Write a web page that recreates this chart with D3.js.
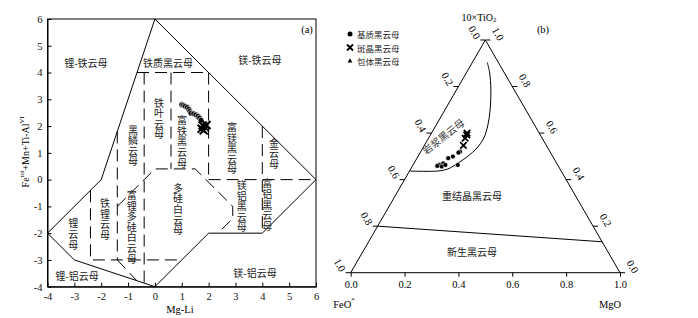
<!DOCTYPE html>
<html><head><meta charset="utf-8">
<script src="https://cdn.jsdelivr.net/npm/d3@7"></script>
<style>body{margin:0;background:#fff}svg{display:block}</style>
</head><body>
<svg id="c" width="698" height="318"></svg>
<script>
// ---------- Panel (a) data : Mg-Li vs Fe(tot)+Mn+Ti-AlVI ----------
const aTicks = [-4,-3,-2,-1,0,1,2,3,4,5,6];
const aMatrix = [[1.00,2.80],[1.06,2.78],[1.12,2.74],[1.20,2.70],[1.26,2.63],[1.30,2.55],[1.34,2.48],[1.44,2.46],[1.52,2.42],[1.60,2.37],[1.66,2.30],[1.72,2.22]];
const aPheno = [[1.78,2.02],[1.86,1.96],[1.74,1.90],[1.92,2.04],[1.82,1.84]];
const aFieldSolid = [[0,6],[-2,0],[-4,-2],[-3,-3],[0,-4],[2,-2],[4,-2],[6,0],[0,6]];
const aFieldDashed = [
  [[-0.667,4],[2,4]],
  [[-0.4,4],[-0.4,-3.867]],
  [[0.6,4],[0.6,0.4]],
  [[2,4],[2,0]],
  [[4,2],[4,-2]],
  [[2,0],[6,0]],
  [[-1.4,1.8],[-1.4,-3]],
  [[-2.4,-0.4],[-2.4,-3],[1,-3]],
  [[-1.4,-1],[0,0.4],[1.5,0.4],[2.9,-1],[2.9,-1.45],[2.35,-2]],
  [[-1.4,-3],[-0.67,-3.78]]
];
const aNamesH = [
  {t:"锂-铁云母", x:-2.57, y:4.39},
  {t:"铁质黑云母", x:0.49, y:4.39},
  {t:"镁-铁云母", x:3.91, y:4.47},
  {t:"锂-铝云母", x:-2.9, y:-3.58},
  {t:"镁-铝云母", x:3.73, y:-3.46}
];
const aNamesV = [
  {t:"铁叶云母", x:0.15, y:2.87},
  {t:"黑鳞云母", x:-0.82, y:1.86},
  {t:"富铁黑云母", x:1.01, y:2.21},
  {t:"富镁黑云母", x:2.87, y:1.96},
  {t:"金云母", x:4.44, y:1.37},
  {t:"多硅白云母", x:0.86, y:-0.31},
  {t:"镁铝黑云母", x:3.23, y:-0.21},
  {t:"富铝黑云母", x:4.18, y:-0.15},
  {t:"铁锂云母", x:-1.86, y:-0.89},
  {t:"富锂多硅白云母", x:-0.86, y:-0.58},
  {t:"锂云母", x:-3.04, y:-1.64}
];

// ---------- Panel (b) data : ternary 10xTiO2 - FeO* - MgO, as [FeO*, MgO, 10TiO2] ----------
const bTicks = [0,0.2,0.4,0.6,0.8,1.0];
const bMatrix = [[0.334,0.146,0.520],[0.371,0.130,0.499],[0.392,0.116,0.492],[0.422,0.108,0.470],[0.440,0.097,0.463],[0.434,0.110,0.456],[0.417,0.120,0.463],[0.371,0.166,0.463],[0.342,0.142,0.516],[0.449,0.092,0.459]];
const bPheno = [[0.273,0.135,0.592],[0.286,0.136,0.578],[0.308,0.145,0.547],[0.268,0.132,0.600]];
const bMagmaticField = [[0.041,0.055,0.904],[0.053,0.084,0.863],[0.087,0.128,0.785],[0.133,0.168,0.699],[0.173,0.192,0.635],[0.216,0.205,0.579],[0.263,0.201,0.536],[0.314,0.185,0.501],[0.366,0.163,0.471],[0.416,0.138,0.446],[0.457,0.106,0.437],[0.563,0,0.437]];
const bNeoLine = [[0.8,0,0.2],[0,0.867,0.133]];
const legendItems = ["基质黑云母","斑晶黑云母","包体黑云母"];

const CJK = "'Noto Sans CJK SC','Noto Sans',sans-serif";
const SERIF = "'Liberation Serif','DejaVu Serif',serif";
const svg = d3.select("#c");
svg.append("rect").attr("width",698).attr("height",318).attr("fill","#fff");

// =============== Panel (a) ===============
const xA = d3.scaleLinear().domain([-4,6]).range([47.5,316]);
const yA = d3.scaleLinear().domain([-4,6]).range([286.7,19]);
const gA = svg.append("g");
const lineA = d3.line().x(d=>xA(d[0])).y(d=>yA(d[1]));

gA.append("rect").attr("x",xA(-4)).attr("y",yA(6)).attr("width",xA(6)-xA(-4)).attr("height",yA(-4)-yA(6))
  .attr("fill","none").attr("stroke","#000").attr("stroke-width",1);

const axAB = gA.append("g").attr("transform",`translate(0,${yA(-4)})`)
  .call(d3.axisBottom(xA).tickValues(aTicks).tickSizeInner(-4).tickSizeOuter(0).tickPadding(6).tickFormat(d=>String(d)));
const axAL = gA.append("g").attr("transform",`translate(${xA(-4)},0)`)
  .call(d3.axisLeft(yA).tickValues(aTicks).tickSizeInner(-4).tickSizeOuter(0).tickPadding(5).tickFormat(d=>String(d)));
[axAB,axAL].forEach(g=>{g.attr("font-family",SERIF).attr("font-size",10.5);g.selectAll("text").attr("fill","#111");});

gA.append("path").datum(aFieldSolid).attr("d",lineA).attr("fill","none").attr("stroke","#000").attr("stroke-width",1);
gA.selectAll(".dash").data(aFieldDashed).join("path").attr("d",lineA).attr("fill","none")
  .attr("stroke","#000").attr("stroke-width",1).attr("stroke-dasharray","12,6");

gA.selectAll(".nh").data(aNamesH).join("text").attr("x",d=>xA(d.x)).attr("y",d=>yA(d.y))
  .attr("text-anchor","middle").attr("dominant-baseline","central").attr("font-family",CJK).attr("font-size",10).attr("fill","#222").text(d=>d.t);
gA.selectAll(".nv").data(aNamesV).join("text")
  .attr("x",d=>xA(d.x)).attr("y",d=>yA(d.y)-5)
  .style("writing-mode","vertical-rl").attr("text-anchor","start")
  .attr("letter-spacing","0.6px")
  .attr("font-family",CJK).attr("font-size",10).attr("fill","#222").text(d=>d.t);

gA.selectAll(".pm").data(aMatrix).join("circle").attr("cx",d=>xA(d[0])).attr("cy",d=>yA(d[1])).attr("r",2.8)
  .attr("fill","#000").attr("stroke","#fff").attr("stroke-width",0.6);
const xPath = (s)=>d=>`M${-s},${-s}L${s},${s}M${-s},${s}L${s},${-s}`;
gA.selectAll(".px").data(aPheno).join("path").attr("transform",d=>`translate(${xA(d[0])},${yA(d[1])})`)
  .attr("d",xPath(4)).attr("stroke","#000").attr("stroke-width",2).attr("fill","none");

gA.append("text").attr("x",307).attr("y",29).attr("text-anchor","middle").attr("dominant-baseline","central")
  .attr("font-family",SERIF).attr("font-size",10.5).text("(a)");
gA.append("text").attr("x",180).attr("y",309).attr("text-anchor","middle").attr("dominant-baseline","central")
  .attr("font-family",SERIF).attr("font-size",10.5).text("Mg-Li");
const yl = gA.append("text").attr("transform","translate(25,152) rotate(-90)").attr("text-anchor","middle")
  .attr("dominant-baseline","central").attr("font-family",SERIF).attr("font-size",10);
yl.append("tspan").text("Fe");
yl.append("tspan").attr("font-size",6.5).attr("dy",-4).text("tot");
yl.append("tspan").attr("dy",4).text("+Mn+Ti-Al");
yl.append("tspan").attr("font-size",6.5).attr("dy",-4).text("VI");

// =============== Panel (b) ===============
const tb = d3.scaleLinear().domain([0,1]).range([350.7,620]);   // MgO along base
const th = d3.scaleLinear().domain([0,1]).range([272.7,40]);    // 10TiO2 height
const tx = d=>tb(d[1]+d[2]/2), ty = d=>th(d[2]);
const lineB = d3.line().x(tx).y(ty);
const gB = svg.append("g");

gB.append("path").datum([[1,0,0],[0,0,1],[0,1,0],[1,0,0]]).attr("d",lineB).attr("fill","none").attr("stroke","#000").attr("stroke-width",1);
gB.append("path").datum(bNeoLine).attr("d",lineB).attr("fill","none").attr("stroke","#000").attr("stroke-width",1);
gB.append("path").datum(bMagmaticField).attr("d",d3.line().x(tx).y(ty).curve(d3.curveCatmullRom.alpha(0.5))).attr("fill","none").attr("stroke","#000").attr("stroke-width",1);

const axBB = gB.append("g").attr("transform",`translate(0,${th(0)})`)
  .call(d3.axisBottom(tb).tickValues(bTicks).tickSizeInner(4).tickSizeOuter(0).tickPadding(4).tickFormat(d3.format(".1f")));
axBB.select(".domain").remove();
axBB.attr("font-family",SERIF).attr("font-size",10.5);

// left edge: FeO* fraction (0 at apex, 1 at FeO* corner)
const leftPts = bTicks.map(v=>[v,0,1-v]);
gB.selectAll(".lt").data(leftPts).join("line").attr("x1",tx).attr("y1",ty).attr("x2",d=>tx(d)-5).attr("y2",ty).attr("stroke","#000");
gB.selectAll(".ll").data(leftPts).join("text").attr("transform",d=>`translate(${tx(d)-11},${ty(d)-7.5}) rotate(60)`)
  .attr("text-anchor","middle").attr("dominant-baseline","central").attr("font-family",SERIF).attr("font-size",10.5).text(d=>d3.format(".1f")(d[0]));
// right edge: 10TiO2 fraction (1 at apex, 0 at MgO corner)
const rightPts = bTicks.map(v=>[0,1-v,v]);
gB.selectAll(".rt").data(rightPts).join("line").attr("x1",tx).attr("y1",ty).attr("x2",d=>tx(d)+5).attr("y2",ty).attr("stroke","#000");
gB.selectAll(".rl").data(rightPts).join("text").attr("transform",d=>`translate(${tx(d)+12.5},${ty(d)-6}) rotate(60)`)
  .attr("text-anchor","middle").attr("dominant-baseline","central").attr("font-family",SERIF).attr("font-size",10.5).text(d=>d3.format(".1f")(d[2]));

// corner titles
const tt = gB.append("text").attr("x",479).attr("y",17).attr("text-anchor","middle").attr("dominant-baseline","central").attr("font-family",SERIF).attr("font-size",10);
tt.append("tspan").text("10×TiO");
tt.append("tspan").attr("font-size",7).attr("dy",3).text("2");
const tf = gB.append("text").attr("x",344).attr("y",304).attr("text-anchor","middle").attr("dominant-baseline","central").attr("font-family",SERIF).attr("font-size",10.5);
tf.append("tspan").text("FeO");
tf.append("tspan").attr("font-size",7).attr("dy",-4).text("*");
gB.append("text").attr("x",610).attr("y",304).attr("text-anchor","middle").attr("dominant-baseline","central").attr("font-family",SERIF).attr("font-size",10.5).text("MgO");
gB.append("text").attr("x",543).attr("y",29).attr("text-anchor","middle").attr("dominant-baseline","central").attr("font-family",SERIF).attr("font-size",10.5).text("(b)");

gB.append("text").attr("transform","translate(443,136) rotate(-38)").attr("text-anchor","middle").attr("dominant-baseline","central")
  .attr("font-family",CJK).attr("font-size",10).attr("fill","#333").text("岩浆黑云母");
gB.append("text").attr("x",472).attr("y",195).attr("text-anchor","middle").attr("dominant-baseline","central")
  .attr("font-family",CJK).attr("font-size",10).attr("fill","#222").text("重结晶黑云母");
gB.append("text").attr("x",472).attr("y",251).attr("text-anchor","middle").attr("dominant-baseline","central")
  .attr("font-family",CJK).attr("font-size",10).attr("fill","#222").text("新生黑云母");

gB.selectAll(".bm").data(bMatrix).join("circle").attr("cx",tx).attr("cy",ty).attr("r",2.4)
  .attr("fill","#000").attr("stroke","#fff").attr("stroke-width",0.5);
gB.selectAll(".bx").data(bPheno).join("path").attr("transform",d=>`translate(${tx(d)},${ty(d)})`)
  .attr("d",xPath(3.2)).attr("stroke","#000").attr("stroke-width",1.8).attr("fill","none");

// legend
const lg = gB.append("g");
lg.append("circle").attr("cx",350).attr("cy",34).attr("r",2.5).attr("fill","#000");
lg.append("path").attr("transform","translate(350,47.5)").attr("d",xPath(3)).attr("stroke","#000").attr("stroke-width",1.8);
lg.append("path").attr("transform","translate(350,61)").attr("d",d3.symbol(d3.symbolTriangle,10)()).attr("fill","#000");
lg.selectAll("text").data(legendItems).join("text").attr("x",357).attr("y",(d,i)=>34+i*13.5)
  .attr("dominant-baseline","central").attr("font-family",CJK).attr("font-size",8.5).attr("fill","#222").text(d=>d);
</script></body></html>
